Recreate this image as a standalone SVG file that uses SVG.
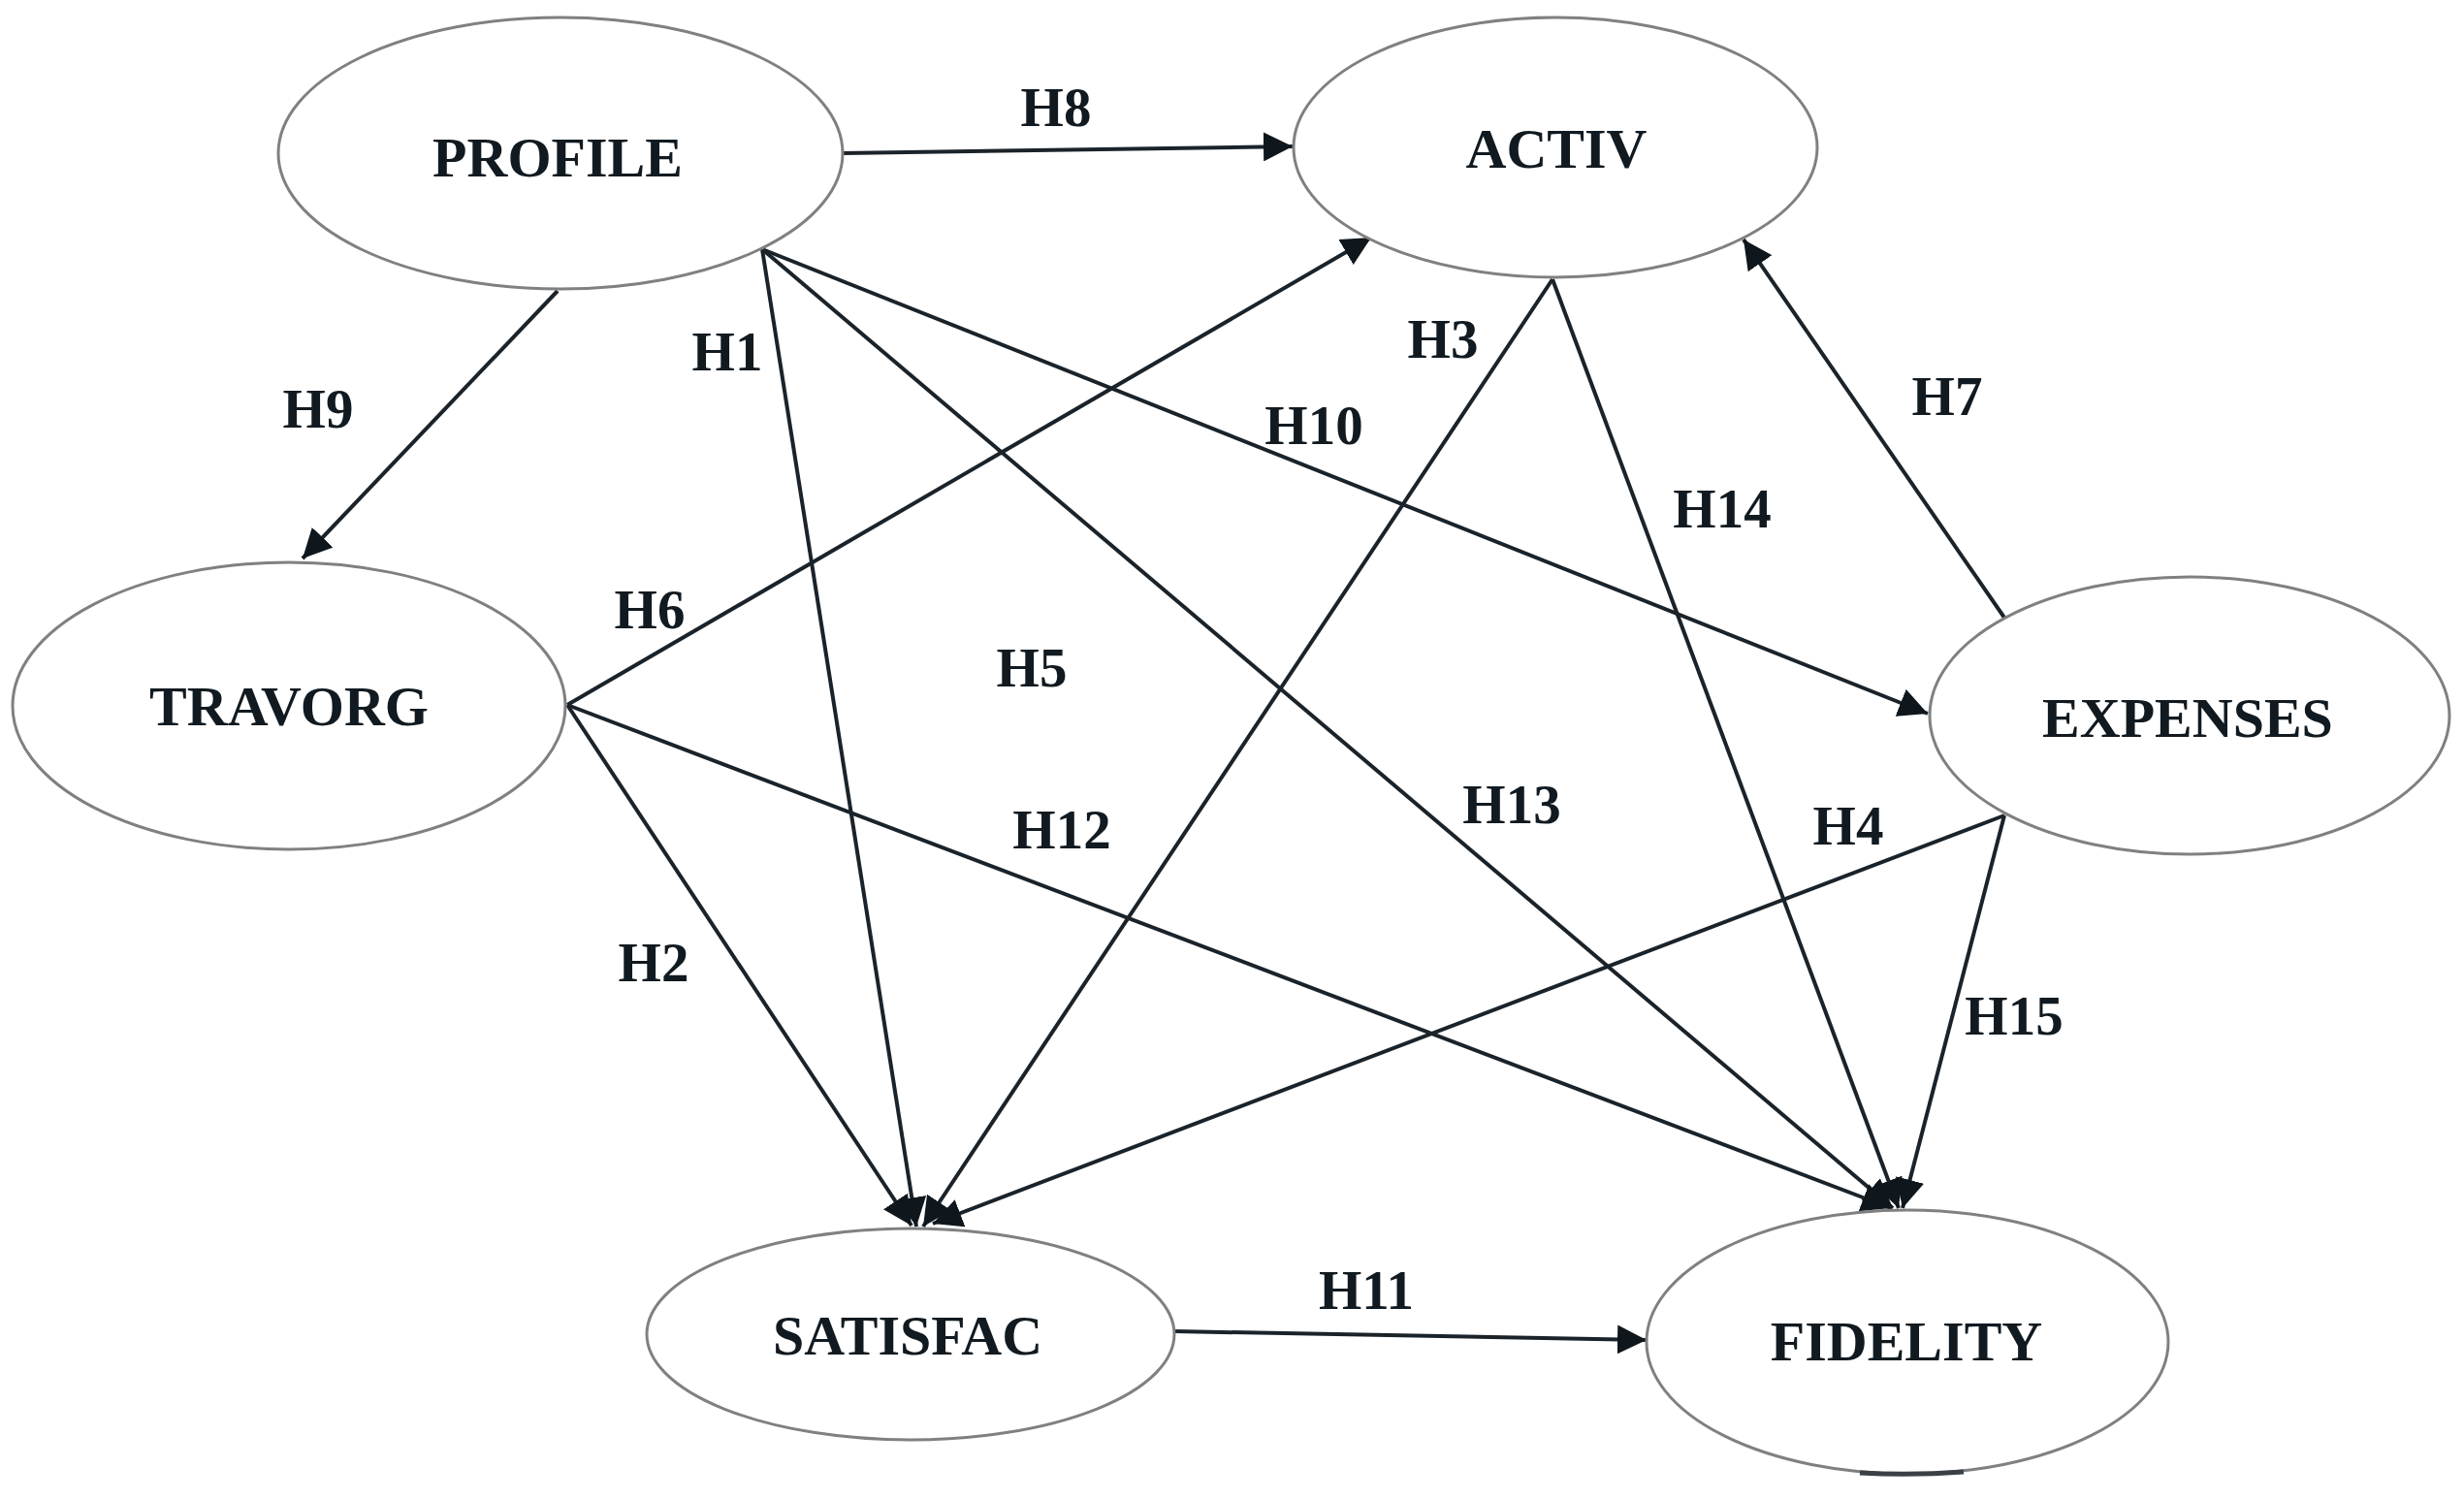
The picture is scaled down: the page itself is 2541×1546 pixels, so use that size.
<svg xmlns="http://www.w3.org/2000/svg" width="2541" height="1546" viewBox="0 0 2541 1546">
<style>
.node ellipse{fill:#fff;stroke:#808080;stroke-width:3}
.node text{font-family:"Liberation Serif","Times New Roman",serif;font-weight:bold;font-size:58px;fill:#111a20;text-anchor:middle}
.edges line{stroke:#1b232a;stroke-width:4;marker-end:url(#arr)}
.lbl{font-family:"Liberation Serif","Times New Roman",serif;font-weight:bold;font-size:57px;fill:#111a20;text-anchor:middle}
</style>
<defs>
<marker id="arr" markerUnits="userSpaceOnUse" markerWidth="32" markerHeight="30" refX="30" refY="15" orient="auto">
<path d="M0,0 L30,15 L0,30 z" fill="#0f171d"/>
</marker>
</defs>
<rect width="2541" height="1546" fill="#fff"/>
<g class="edges">
<line x1="869" y1="158" x2="1333" y2="151"/>
<line x1="575" y1="300" x2="312" y2="576"/>
<line x1="786" y1="257" x2="945" y2="1265"/>
<line x1="786" y1="257" x2="1988" y2="736"/>
<line x1="786" y1="257" x2="1952" y2="1246"/>
<line x1="585" y1="727" x2="1414" y2="245"/>
<line x1="585" y1="727" x2="940" y2="1264"/>
<line x1="585" y1="727" x2="1950" y2="1246"/>
<line x1="1601" y1="288" x2="952" y2="1265"/>
<line x1="1601" y1="288" x2="1958" y2="1246"/>
<line x1="2067" y1="637" x2="1798" y2="247"/>
<line x1="2067" y1="841" x2="962" y2="1262"/>
<line x1="2067" y1="841" x2="1962" y2="1246"/>
<line x1="1211" y1="1373" x2="1698" y2="1382"/>
</g>
<g id="profile" class="node"><ellipse cx="578" cy="158" rx="291" ry="140"/><text x="575" y="182">PROFILE</text></g>
<g id="activ" class="node"><ellipse cx="1604" cy="152" rx="270" ry="134"/><text x="1605" y="173">ACTIV</text></g>
<g id="travorg" class="node"><ellipse cx="298" cy="728" rx="285" ry="148"/><text x="298" y="748">TRAVORG</text></g>
<g id="expenses" class="node"><ellipse cx="2258" cy="738" rx="268" ry="143"/><text x="2256" y="760">EXPENSES</text></g>
<g id="satisfac" class="node"><ellipse cx="939" cy="1376" rx="272" ry="109"/><text x="936" y="1397">SATISFAC</text></g>
<g id="fidelity" class="node"><ellipse cx="1967" cy="1384" rx="269" ry="136"/><text x="1966" y="1403">FIDELITY</text><path d="M1918,1519 Q1970,1522 2025,1518" fill="none" stroke="#3a4046" stroke-width="5"/></g>
<g id="labels">
<text class="lbl" x="1089" y="130">H8</text>
<text class="lbl" x="328" y="441">H9</text>
<text class="lbl" x="750" y="382">H1</text>
<text class="lbl" x="1488" y="369">H3</text>
<text class="lbl" x="1355" y="458">H10</text>
<text class="lbl" x="2008" y="428">H7</text>
<text class="lbl" x="1776" y="544">H14</text>
<text class="lbl" x="670" y="648">H6</text>
<text class="lbl" x="1064" y="708">H5</text>
<text class="lbl" x="1559" y="849">H13</text>
<text class="lbl" x="1906" y="871">H4</text>
<text class="lbl" x="1095" y="875">H12</text>
<text class="lbl" x="674" y="1012">H2</text>
<text class="lbl" x="2077" y="1067">H15</text>
<text class="lbl" x="1409" y="1350">H11</text>
</g>
</svg>
